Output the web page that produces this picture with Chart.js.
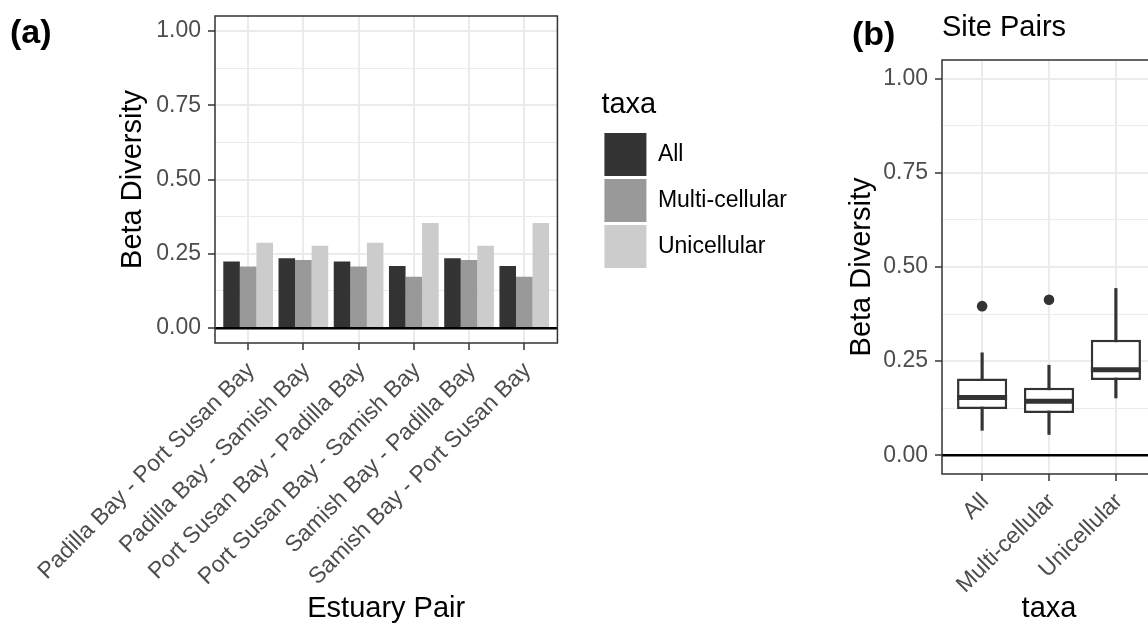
<!DOCTYPE html>
<html>
<head>
<meta charset="utf-8">
<script src="https://cdn.jsdelivr.net/npm/chart.js@4.4.1/dist/chart.umd.min.js"></script>
<style>
  html, body { margin: 0; padding: 0; background: #fff; overflow: hidden; }
  body { width: 1148px; height: 626px; position: relative; font-family: "Liberation Sans", Arial, sans-serif; }
  #chartA { position: absolute; left: 0; top: 0; }
  #chartB { position: absolute; left: 830px; top: 0; }
  .tag { position: absolute; font-weight: bold; font-size: 34px; line-height: 1; color: #000; }
</style>
</head>
<body>
<canvas id="chartA" width="797" height="626"></canvas>
<canvas id="chartB" width="370" height="626"></canvas>
<div class="tag" style="left:10px; top:14px;">(a)</div>
<div class="tag" style="left:852px; top:16px;">(b)</div>
<script>
// panel (a): mean beta diversity per estuary pair
const pairs = ['Padilla Bay - Port Susan Bay', 'Padilla Bay - Samish Bay', 'Port Susan Bay - Padilla Bay',
               'Port Susan Bay - Samish Bay', 'Samish Bay - Padilla Bay', 'Samish Bay - Port Susan Bay'];
const allVals   = [0.224, 0.235, 0.224, 0.209, 0.235, 0.209];
const multiVals = [0.207, 0.229, 0.207, 0.173, 0.229, 0.173];
const uniVals   = [0.287, 0.277, 0.287, 0.354, 0.277, 0.354];

// panel (b): site pairs boxplots
const taxaLabels = ['All', 'Multi-cellular', 'Unicellular'];
const boxMin = [0.066, 0.055, 0.152];
const boxQ1  = [0.123, 0.112, 0.200];
const boxMed = [0.153, 0.143, 0.227];
const boxQ3  = [0.204, 0.179, 0.307];
const boxMax = [0.272, 0.239, 0.443];
const outlierTaxa = [0, 1];
const outlierVals = [0.396, 0.413];

const yMajor = [0, 0.25, 0.5, 0.75, 1];
const yMinor = [0.125, 0.375, 0.625, 0.875];
const yLimits = [-0.05, 1.05];
const xLimitsA = [-0.6, 5.6];
const xLimitsB = [-0.6, 2.6];
const hlineY = 0;

const barColors = ['#333333', '#999999', '#cccccc'];
const FONT = '"Liberation Sans", Arial, sans-serif';
const tickFont = { family: FONT, size: 23 };
const titleFont = { family: FONT, size: 29, weight: 'normal' };

const isMajor = v => yMajor.includes(v);

const panelBorder = {
  id: 'panelBorder',
  afterDatasetsDraw(chart) {
    const { ctx, chartArea: a } = chart;
    ctx.save();
    ctx.strokeStyle = '#333333';
    ctx.lineWidth = 1.5;
    ctx.strokeRect(a.left, a.top, a.right - a.left, a.bottom - a.top);
    ctx.restore();
  }
};

// fixed axis size, and no extra padding asked for by the tick labels
const fixSize = (key, size) => s => {
  s[key] = size;
  s.paddingTop = s.paddingBottom = s.paddingLeft = s.paddingRight = 0;
};

function yAxis(width) {
  return {
    type: 'linear', min: yLimits[0], max: yLimits[1], bounds: 'data',
    afterBuildTicks: s => { s.ticks = [...yMajor, ...yMinor].sort((a, b) => a - b).map(v => ({ value: v })); },
    afterFit: fixSize('width', width),
    ticks: { font: tickFont, color: '#4d4d4d', padding: 7, autoSkip: false,
             callback: v => isMajor(v) ? v.toFixed(2) : '' },
    grid: { color: '#ebebeb', lineWidth: c => isMajor(c.tick.value) ? 2 : 1,
            tickLength: 7, tickWidth: 1.5,
            tickColor: c => isMajor(c.tick.value) ? '#333333' : 'rgba(0,0,0,0)' },
    border: { display: false },
    title: { display: true, text: 'Beta Diversity', font: titleFont, color: '#000', padding: 0 }
  };
}

function xAxis(labels, limits, height, title) {
  return {
    type: 'linear', min: limits[0], max: limits[1], bounds: 'data', offset: false,
    afterBuildTicks: s => { s.ticks = labels.map((l, i) => ({ value: i })); },
    afterFit: fixSize('height', height),
    ticks: { font: tickFont, color: '#4d4d4d', autoSkip: false, minRotation: 45, maxRotation: 45,
             padding: 7, labelOffset: 3, callback: v => labels[v] },
    grid: { offset: false, color: '#ebebeb', lineWidth: 2, tickLength: 7, tickWidth: 1.5, tickColor: '#333333' },
    border: { display: false },
    title: { display: true, text: title, font: titleFont, color: '#000', padding: 0 }
  };
}

const datasetsA = [allVals, multiVals, uniVals].map((vals, k) => ({
  type: 'bar',
  label: taxaLabels[k],
  data: vals.map((v, i) => ({ x: i, y: v })),
  backgroundColor: barColors[k],
  borderWidth: 0,
  categoryPercentage: 0.9,
  barPercentage: 1,
  order: 2
}));
datasetsA.push({
  type: 'line', label: 'zero',
  data: xLimitsA.map(x => ({ x, y: hlineY })),
  borderColor: '#000', borderWidth: 2.5, pointRadius: 0, order: 0
});

new Chart(document.getElementById('chartA'), {
  type: 'bar',
  data: { datasets: datasetsA },
  options: {
    responsive: false, animation: false, events: [],
    layout: { autoPadding: false, padding: { left: 115.6, top: 16, right: 0, bottom: 0 } },
    scales: {
      x: xAxis(pairs, xLimitsA, 283, 'Estuary Pair'),
      y: yAxis(99.4),
      gap: { axis: 'y', type: 'linear', position: 'right', display: true,
             grid: { display: false }, ticks: { display: false }, border: { display: false },
             afterFit: fixSize('width', 44) }
    },
    plugins: {
      tooltip: { enabled: false },
      legend: {
        position: 'right', align: 'start', maxWidth: 300,
        labels: { boxWidth: 42, boxHeight: 43, padding: 3, color: '#000',
                  font: { family: FONT, size: 23 },
                  filter: item => item.datasetIndex < 3 },
        title: { display: true, text: 'taxa', color: '#000', font: titleFont, position: 'start',
                 padding: { top: 74.5, bottom: 4.7 } }
      }
    }
  },
  plugins: [panelBorder]
});

const datasetsB = [
  { type: 'bar', label: 'whisker', data: taxaLabels.map((t, i) => ({ x: i, y: [boxMin[i], boxMax[i]] })),
    backgroundColor: '#333333', borderWidth: 0, barThickness: 2.5, grouped: false, order: 3 },
  { type: 'bar', label: 'box', data: taxaLabels.map((t, i) => ({ x: i, y: [boxQ1[i], boxQ3[i]] })),
    backgroundColor: '#ffffff', borderColor: '#333333', borderWidth: 2.5, borderSkipped: false,
    categoryPercentage: 0.75, barPercentage: 1, grouped: false, order: 2 },
  { type: 'line', label: 'median', data: taxaLabels.map((t, i) => ({ x: i, y: boxMed[i] })),
    showLine: false, pointStyle: 'line', pointRadius: 25, pointBorderWidth: 5,
    pointBorderColor: '#333333', order: 1 },
  { type: 'line', label: 'outlier', data: outlierTaxa.map((t, i) => ({ x: t, y: outlierVals[i] })),
    showLine: false, pointStyle: 'circle', pointRadius: 5.3, pointBorderWidth: 0,
    pointBackgroundColor: '#333333', order: 1 },
  { type: 'line', label: 'zero', data: xLimitsB.map(x => ({ x, y: hlineY })),
    borderColor: '#000', borderWidth: 2.5, pointRadius: 0, order: 0 }
];

new Chart(document.getElementById('chartB'), {
  type: 'bar',
  data: { datasets: datasetsB },
  options: {
    responsive: false, animation: false, events: [],
    layout: { autoPadding: false, padding: { left: 14.6, top: 0, right: 44, bottom: 0 } },
    scales: {
      x: xAxis(taxaLabels, xLimitsB, 152, 'taxa'),
      y: yAxis(97.4)
    },
    plugins: {
      tooltip: { enabled: false },
      legend: { display: false },
      title: { display: true, text: 'Site Pairs', align: 'start', fullSize: false, color: '#000',
               font: titleFont, padding: { top: 10.6, bottom: 14.6 } }
    }
  },
  plugins: [panelBorder]
});
</script>
</body>
</html>
